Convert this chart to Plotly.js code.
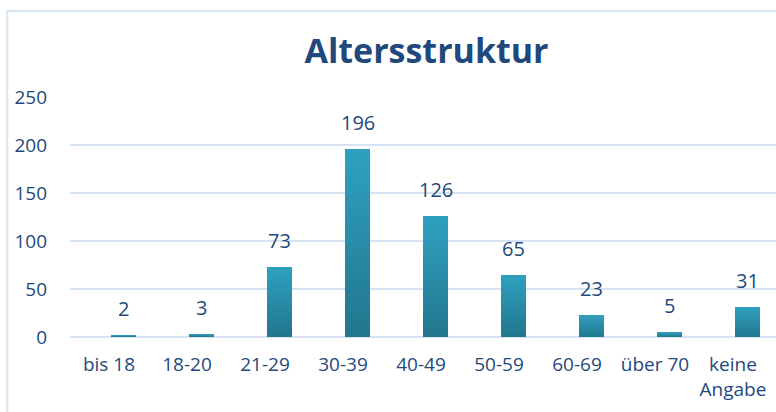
<!DOCTYPE html>
<html>
<head>
<meta charset="utf-8">
<script src="https://cdn.plot.ly/plotly-3.0.1.min.js"></script>
<style>
  html, body { margin: 0; padding: 0; background: #ffffff; }
  #chart { width: 776px; height: 412px; }
</style>
</head>
<body>
<div id="chart"></div>
<script>
const categories = ["bis 18", "18-20", "21-29", "30-39", "40-49", "50-59", "60-69", "über 70", "keine<br>Angabe"];
const counts = [2, 3, 73, 196, 126, 65, 23, 5, 31];
const yTicks = [0, 50, 100, 150, 200, 250];
const chartTitle = "Altersstruktur";

const textColor = "#1f497d";
const gridColor = "#d7e3f3";

const bars = {
  type: "bar",
  x: categories,
  y: counts,
  width: 0.32,
  offset: 0.026,
  marker: { color: "#2889a6", line: { width: 0 } },
  hoverinfo: "skip",
  showlegend: false
};

const annotations = categories.map((c, i) => ({
  x: c,
  y: counts[i],
  xshift: 14.5,
  yshift: 11,
  text: String(counts[i]),
  showarrow: false,
  xanchor: "center",
  yanchor: "bottom",
  font: { family: "Open Sans, sans-serif", size: 20, color: textColor }
}));

const layout = {
  width: 776,
  height: 412,
  margin: { l: 70, r: 0, t: 97, b: 75 },
  paper_bgcolor: "#ffffff",
  plot_bgcolor: "#ffffff",
  title: {
    text: "<b>" + chartTitle + "</b>",
    font: { family: "Open Sans, sans-serif", size: 34, color: textColor },
    xref: "container", yref: "container",
    x: 426.5 / 776, xanchor: "center",
    y: 1 - 51 / 412, yanchor: "middle"
  },
  xaxis: {
    type: "category",
    range: [-0.5, -0.5 + 706 / 78],
    showgrid: false,
    zeroline: false,
    showline: false,
    ticks: "",
    ticklabelstandoff: 14,
    tickfont: { family: "Open Sans, sans-serif", size: 19, color: textColor },
    fixedrange: true
  },
  yaxis: {
    range: [0, 250],
    tickvals: yTicks,
    ticktext: yTicks.map(String),
    showgrid: true,
    gridcolor: gridColor,
    gridwidth: 2,
    zeroline: true,
    zerolinecolor: gridColor,
    zerolinewidth: 2,
    showline: false,
    ticks: "",
    ticklabelstandoff: 22,
    tickfont: { family: "Open Sans, sans-serif", size: 19, color: textColor },
    fixedrange: true
  },
  annotations: annotations,
  shapes: [{
    type: "rect",
    xref: "paper", yref: "paper",
    x0: (7.3 - 70) / 706, x1: 1.2,
    y0: -0.5, y1: (337 - 11) / 240,
    line: { color: "#d6e4f4", width: 2 },
    fillcolor: "rgba(0,0,0,0)",
    layer: "below"
  }],
  bargap: 0
};

Plotly.newPlot("chart", [bars], layout, { displayModeBar: false, staticPlot: true }).then(gd => {
  const svg = gd.querySelector("svg.main-svg");
  const ns = "http://www.w3.org/2000/svg";
  let defs = svg.querySelector("defs");
  if (!defs) { defs = document.createElementNS(ns, "defs"); svg.insertBefore(defs, svg.firstChild); }
  const grad = document.createElementNS(ns, "linearGradient");
  grad.setAttribute("id", "barGrad");
  grad.setAttribute("x1", "0"); grad.setAttribute("y1", "0");
  grad.setAttribute("x2", "0"); grad.setAttribute("y2", "1");
  const s1 = document.createElementNS(ns, "stop");
  s1.setAttribute("offset", "0"); s1.setAttribute("stop-color", "#2ea1c0");
  const s2 = document.createElementNS(ns, "stop");
  s2.setAttribute("offset", "1"); s2.setAttribute("stop-color", "#22768e");
  grad.appendChild(s1); grad.appendChild(s2);
  defs.appendChild(grad);
  gd.querySelectorAll(".bars .point path").forEach(p => {
    p.style.fill = "url(#barGrad)";
  });
});
</script>
</body>
</html>
